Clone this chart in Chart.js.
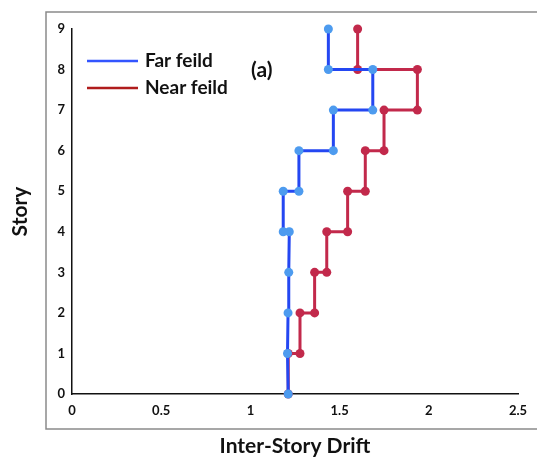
<!DOCTYPE html>
<html>
<head>
<meta charset="utf-8">
<script src="https://cdn.jsdelivr.net/npm/chart.js@4"></script>
<style>
  html, body { margin: 0; padding: 0; background: #fff; }
  #wrap { width: 537px; height: 460px; }
</style>
</head>
<body>
<div id="wrap"><canvas id="driftChart" width="537" height="460"></canvas></div>
<script>
// data (step profile: drift per story level)
const seriesNames = ["Far feild", "Near feild"];
const farStory = [0, 1, 2, 3, 4, 4, 5, 5, 6, 6, 7, 7, 8, 8, 9];
const farDrift = [1.212, 1.208, 1.211, 1.215, 1.218, 1.184, 1.184, 1.272, 1.272, 1.465, 1.465, 1.686, 1.686, 1.437, 1.437];
const nearStory = [0, 1, 1, 2, 2, 3, 3, 4, 4, 5, 5, 6, 6, 7, 7, 8, 8, 9];
const nearDrift = [1.212, 1.212, 1.278, 1.278, 1.36, 1.36, 1.428, 1.428, 1.545, 1.545, 1.644, 1.644, 1.749, 1.749, 1.936, 1.936, 1.601, 1.601];
const xTicks = [0, 0.5, 1, 1.5, 2, 2.5];
const yTicks = [0, 1, 2, 3, 4, 5, 6, 7, 8, 9];

const toPoints = (xs, ys) => xs.map((x, i) => ({ x: x, y: ys[i] }));

const FONT = "Lato, 'Open Sans', sans-serif";

// frame + inline legend + panel tag
const decorations = {
  id: 'decorations',
  afterDraw(chart) {
    const ctx = chart.ctx;
    ctx.save();
    ctx.strokeStyle = '#8a8a8a';
    ctx.lineWidth = 1.5;
    ctx.beginPath();
    ctx.moveTo(540, 12);
    ctx.lineTo(46, 12);
    ctx.lineTo(46, 429);
    ctx.lineTo(540, 429);
    ctx.stroke();

    // legend
    const legendColors = ['#3355ff', '#b01c1c'];
    seriesNames.forEach((name, i) => {
      const y = 61 + i * 27;
      ctx.strokeStyle = legendColors[i];
      ctx.lineWidth = 2.5;
      ctx.beginPath();
      ctx.moveTo(87, y);
      ctx.lineTo(138, y);
      ctx.stroke();
      ctx.fillStyle = '#111';
      ctx.font = 'bold 19px ' + FONT;
      ctx.textBaseline = 'middle';
      ctx.textAlign = 'left';
      ctx.fillText(name, 145, y);
    });

    ctx.font = 'bold 21px ' + FONT;
    ctx.fillText('(a)', 251, 70);
    ctx.restore();
  }
};

new Chart(document.getElementById('driftChart'), {
  type: 'line',
  data: {
    datasets: [
      {
        label: seriesNames[0],
        data: toPoints(farDrift, farStory),
        borderColor: '#2447f2',
        backgroundColor: '#4d9bef',
        pointBackgroundColor: '#4d9bef',
        pointBorderWidth: 0,
        pointRadius: 4.5,
        borderWidth: 3,
        tension: 0,
        clip: false
      },
      {
        label: seriesNames[1],
        data: toPoints(nearDrift, nearStory),
        borderColor: '#c2294b',
        backgroundColor: '#c2294b',
        pointBackgroundColor: '#c2294b',
        pointBorderWidth: 0,
        pointRadius: 4.5,
        borderWidth: 3,
        tension: 0,
        clip: false
      }
    ]
  },
  options: {
    responsive: false,
    animation: false,
    layout: { padding: { left: 0, right: 19, top: 29, bottom: 0 } },
    plugins: {
      legend: { display: false },
      tooltip: { enabled: false }
    },
    scales: {
      x: {
        type: 'linear',
        min: 0,
        max: 2.5,
        afterBuildTicks: (s) => { s.ticks = xTicks.map(v => ({ value: v })); },
        afterFit: (s) => { s.height = 66; },
        grid: { display: false, drawTicks: false },
        border: { display: true, color: '#111', width: 1.5 },
        ticks: {
          color: '#111',
          padding: 9,
          maxRotation: 0,
          callback: (v) => String(v),
          font: { family: FONT, size: 13, weight: 'bold' }
        },
        title: {
          display: true,
          text: 'Inter-Story Drift',
          color: '#111',
          padding: { top: 0, bottom: 1 },
          font: { family: FONT, size: 21, weight: 'bold' }
        }
      },
      y: {
        type: 'linear',
        min: 0,
        max: 9,
        afterBuildTicks: (s) => { s.ticks = yTicks.map(v => ({ value: v })); },
        afterFit: (s) => { s.width = 72; },
        grid: { display: false, drawTicks: false },
        border: { display: true, color: '#111', width: 1.5 },
        ticks: {
          color: '#111',
          padding: 7,
          callback: (v) => String(v),
          font: { family: FONT, size: 13, weight: 'bold' }
        },
        title: {
          display: true,
          text: 'Story',
          color: '#111',
          padding: { top: 8, bottom: 0 },
          font: { family: FONT, size: 21, weight: 'bold' }
        }
      }
    }
  },
  plugins: [decorations]
});
</script>
</body>
</html>
